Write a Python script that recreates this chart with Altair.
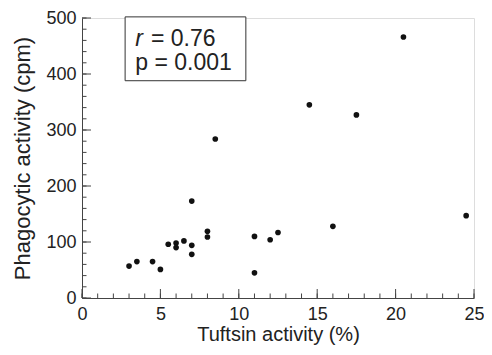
import altair as alt
import pandas as pd

# Data
tuftsin = [3, 3.5, 4.5, 5, 5.5, 6, 6, 6.5, 7, 7, 7, 8, 8, 8.5,
           11, 11, 12, 12.5, 14.5, 16, 17.5, 20.5, 24.5]
phago = [57, 65, 65, 51, 96, 98, 90, 102, 94, 78, 173, 119, 109, 284,
         110, 45, 104, 117, 345, 128, 327, 466, 147]

x_major = [0, 5, 10, 15, 20, 25]
x_minor = list(range(0, 26))
y_major = [0, 100, 200, 300, 400, 500]
y_minor = list(range(0, 501, 20))

# annotation box (data units) and its text
box_x = [2.75]
box_x2 = [10.45]
box_y = [502]
box_y2 = [388]
ann_lines = ["r", "= 0.76", "p = 0.001"]
ann_x = [3.4, 4.4, 3.4]
ann_y = [462, 462, 420]
ann_style = ["italic", "normal", "normal"]

W, H = 392, 280
MAJ, MIN = 9, 4.5
FONT = "Liberation Sans"
TXT = "#222222"
LINE = "#444444"
XT = "Tuftsin activity (%)"
YT = "Phagocytic activity (cpm)"

df = pd.DataFrame({"t": tuftsin, "p": phago})
xs = alt.Scale(domain=[0, 25], nice=False, zero=True)
ys = alt.Scale(domain=[0, 500], nice=False, zero=True)

xa = alt.Axis(
    orient="bottom", values=x_major, tickSize=0, labelPadding=7,
    labelFlush=False, labelFontSize=18, labelColor=TXT, labelFont=FONT,
    title=XT, titleFontSize=20, titleFont=FONT,
    titleColor=TXT, titleFontWeight="normal", titlePadding=1,
    domainColor=LINE, grid=False)
ya = alt.Axis(
    orient="left", values=y_major, tickSize=0, labelPadding=6,
    labelFlush=False, labelFontSize=18, labelColor=TXT, labelFont=FONT,
    title=YT, titleFontSize=22, titleFont=FONT,
    titleColor=TXT, titleFontWeight="normal", titlePadding=11,
    domainColor=LINE, grid=False)

def X(field):
    return alt.X(field, type="quantitative", scale=xs, axis=xa, title=XT)

def Y(field):
    return alt.Y(field, type="quantitative", scale=ys, axis=ya, title=YT)

points = alt.Chart(df).mark_circle(size=32, color="#111111", opacity=1).encode(
    x=X("t"), y=Y("p"))

# inward-pointing axis ticks drawn from the tick value lists
xmaj_df = pd.DataFrame({"v": x_major})
xmin_df = pd.DataFrame({"v": x_minor})
ymaj_df = pd.DataFrame({"v": y_major})
ymin_df = pd.DataFrame({"v": y_minor})

def xticks(d, ln):
    return alt.Chart(d).mark_rule(color=LINE, strokeWidth=1).encode(
        x=X("v"), y=alt.value(H), y2=alt.value(H - ln))

def yticks(d, ln):
    return alt.Chart(d).mark_rule(color=LINE, strokeWidth=1).encode(
        y=Y("v"), x=alt.value(0), x2=alt.value(ln))

box_df = pd.DataFrame({"x": box_x, "x2": box_x2, "y": box_y, "y2": box_y2})
box = alt.Chart(box_df).mark_rect(fill="white", stroke="#333333", strokeWidth=1).encode(
    x=X("x"), x2="x2", y=Y("y"), y2="y2")

ann_df = pd.DataFrame({"label": ann_lines, "x": ann_x, "y": ann_y, "style": ann_style})
ann_norm = alt.Chart(ann_df).transform_filter("datum.style == 'normal'").mark_text(
    align="left", baseline="middle", fontSize=23, font=FONT, color=TXT).encode(
    x=X("x"), y=Y("y"), text="label:N")
ann_ital = alt.Chart(ann_df).transform_filter("datum.style == 'italic'").mark_text(
    align="left", baseline="middle", fontSize=23, font=FONT, color=TXT,
    fontStyle="italic").encode(
    x=X("x"), y=Y("y"), text="label:N")

chart = alt.layer(
    points,
    xticks(xmin_df, MIN), xticks(xmaj_df, MAJ),
    yticks(ymin_df, MIN), yticks(ymaj_df, MAJ),
    box, ann_norm, ann_ital,
).properties(
    width=W, height=H,
    autosize=alt.AutoSizeParams(type="none"),
    padding={"left": 74, "top": 10, "right": 10, "bottom": 49},
).configure_view(stroke=None).configure(background="white")

chart.save("out.html", embed_options={"renderer": "svg", "actions": False})
